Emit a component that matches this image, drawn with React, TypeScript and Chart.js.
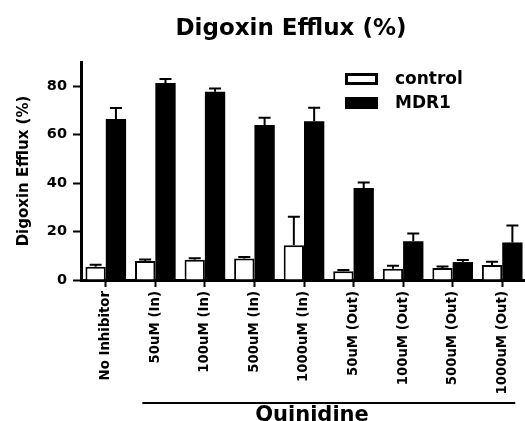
import { useEffect, useRef } from "react";
import { Chart, registerables } from "chart.js";

Chart.register(...registerables);

const categories = [
  "No Inhibitor",
  "50uM (In)",
  "100uM (In)",
  "500uM (In)",
  "1000uM (In)",
  "50uM (Out)",
  "100uM (Out)",
  "500uM (Out)",
  "1000uM (Out)",
];
const seriesNames = ["control", "MDR1"];
const controlValues = [5.5, 7.8, 8.4, 8.9, 14.3, 3.6, 4.6, 5.0, 6.2];
const controlErrors = [0.8, 0.7, 0.6, 0.6, 11.8, 0.5, 1.3, 0.6, 1.3];
const mdr1Values = [66.5, 81.3, 77.7, 64.0, 65.5, 38.0, 16.0, 7.4, 15.5];
const mdr1Errors = [4.5, 1.7, 1.4, 3.0, 5.6, 2.3, 3.2, 0.9, 7.0];
const yMin = 0;
const yMax = 90;
const yStep = 20;
const chartTitle = "Digoxin Efflux (%)";
const yTitle = "Digoxin Efflux (%)";
const groupLabel = "Quinidine";
const groupFirst = 1;
const groupLast = 8;

const FONT = "'DejaVu Sans', 'Liberation Sans', sans-serif";

const errorBarPlugin = {
  id: "errorBars",
  afterDatasetsDraw(chart: any) {
    const ctx = chart.ctx;
    const y = chart.scales.y;
    chart.data.datasets.forEach((ds: any, di: number) => {
      const meta = chart.getDatasetMeta(di);
      meta.data.forEach((bar: any, i: number) => {
        const v = ds.data[i];
        const e = ds.errors[i];
        const x = bar.x;
        const top = y.getPixelForValue(v);
        const end = y.getPixelForValue(v + e);
        ctx.save();
        ctx.strokeStyle = "#000";
        ctx.lineWidth = 2;
        ctx.beginPath();
        ctx.moveTo(x, top);
        ctx.lineTo(x, end);
        ctx.moveTo(x - 6, end);
        ctx.lineTo(x + 6, end);
        ctx.stroke();
        ctx.restore();
      });
    });
  },
};

const decorPlugin = {
  id: "decor",
  afterDraw(chart: any) {
    const ctx = chart.ctx;
    const xs = chart.scales.x;
    ctx.save();
    // title
    ctx.fillStyle = "#000";
    ctx.font = `bold 23px ${FONT}`;
    ctx.textAlign = "center";
    ctx.textBaseline = "alphabetic";
    ctx.fillText(chartTitle, 291, 35);

    // legend
    const boxX = 345;
    const boxW = 33;
    const rows = [
      { y: 73, h: 12 },
      { y: 97, h: 12 },
    ];
    chart.data.datasets.forEach((ds: any, i: number) => {
      const r = rows[i];
      ctx.lineWidth = 3;
      ctx.strokeStyle = "#000";
      ctx.fillStyle = ds.backgroundColor;
      ctx.beginPath();
      ctx.rect(boxX + 1.5, r.y + 1.5, boxW - 3, r.h - 3);
      ctx.fill();
      ctx.stroke();
      ctx.fillStyle = "#000";
      ctx.font = `bold 17px ${FONT}`;
      ctx.textAlign = "left";
      ctx.textBaseline = "middle";
      ctx.fillText(ds.label, 395, r.y + r.h / 2 + 1);
    });

    // group bracket
    const x1 = xs.getPixelForValue(groupFirst) - 13;
    const x2 = xs.getPixelForValue(groupLast) + 13;
    ctx.lineWidth = 2;
    ctx.strokeStyle = "#000";
    ctx.beginPath();
    ctx.moveTo(x1, 403);
    ctx.lineTo(x2, 403);
    ctx.stroke();
    ctx.fillStyle = "#000";
    ctx.font = `bold 21px ${FONT}`;
    ctx.textAlign = "center";
    ctx.textBaseline = "alphabetic";
    ctx.fillText(groupLabel, 312, 421);
    ctx.restore();
  },
};

export default function App() {
  const ref = useRef<HTMLCanvasElement>(null);
  useEffect(() => {
    const chart = new Chart(ref.current as HTMLCanvasElement, {
      type: "bar",
      data: {
        labels: categories,
        datasets: [
          {
            label: seriesNames[0],
            data: controlValues,
            errors: controlErrors,
            backgroundColor: "#ffffff",
            borderColor: "#000000",
            borderWidth: 2,
            categoryPercentage: 0.82,
            barPercentage: 1,
          } as any,
          {
            label: seriesNames[1],
            data: mdr1Values,
            errors: mdr1Errors,
            backgroundColor: "#000000",
            borderColor: "#000000",
            borderWidth: 0,
            categoryPercentage: 0.82,
            barPercentage: 1,
          } as any,
        ],
      },
      options: {
        responsive: false,
        animation: false,
        layout: { padding: { top: 62, right: 1, left: 0, bottom: 0 } },
        plugins: {
          legend: { display: false },
          title: { display: false },
          tooltip: { enabled: false },
        },
        scales: {
          x: {
            afterFit: (s: any) => {
              s.height = 141;
            },
            grid: {
              display: true,
              drawOnChartArea: false,
              offset: false,
              tickLength: 7,
              tickWidth: 2,
              color: "#000",
            },
            border: { display: true, width: 3, color: "#000" },
            ticks: {
              autoSkip: false,
              minRotation: 90,
              maxRotation: 90,
              padding: 4,
              color: "#000",
              font: { family: FONT, weight: "bold", size: 13.3 },
            },
          },
          y: {
            min: yMin,
            max: yMax,
            afterFit: (s: any) => {
              s.width = 81;
            },
            grid: {
              display: true,
              drawOnChartArea: false,
              tickLength: 8,
              tickWidth: 2,
              color: "#000",
            },
            border: { display: true, width: 3, color: "#000" },
            ticks: {
              stepSize: yStep,
              includeBounds: false,
              padding: 6,
              color: "#000",
              font: { family: FONT, weight: "bold", size: 14.5 },
            },
            title: {
              display: true,
              text: yTitle,
              color: "#000",
              padding: { top: 15, bottom: 0 },
              font: { family: FONT, weight: "bold", size: 15 },
            },
          },
        },
      } as any,
      plugins: [errorBarPlugin, decorPlugin],
    });
    return () => chart.destroy();
  }, []);
  return (
    <div
      style={{
        position: "absolute",
        left: 0,
        top: 0,
        width: 525,
        height: 421,
        overflow: "hidden",
        background: "#fff",
      }}
    >
      <canvas ref={ref} width={528} height={421} style={{ display: "block" }} />
    </div>
  );
}
